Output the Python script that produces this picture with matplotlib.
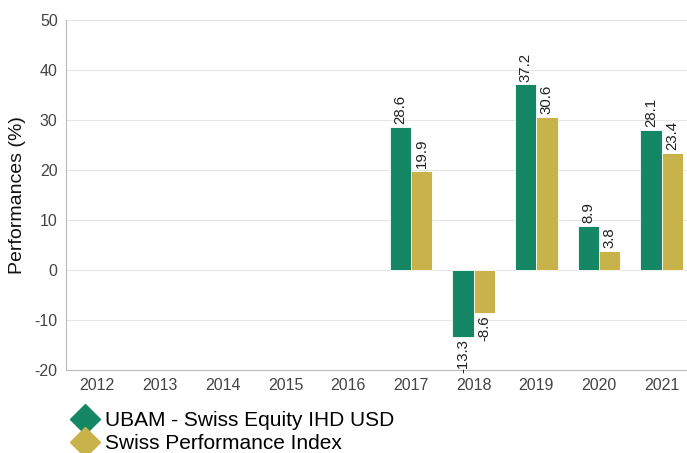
import matplotlib
matplotlib.use("Agg")
import matplotlib.pyplot as plt
import numpy as np
from matplotlib.lines import Line2D

years = ["2012", "2013", "2014", "2015", "2016", "2017", "2018", "2019", "2020", "2021"]
fund = [None, None, None, None, None, 28.6, -13.3, 37.2, 8.9, 28.1]
index = [None, None, None, None, None, 19.9, -8.6, 30.6, 3.8, 23.4]
series_names = ["UBAM - Swiss Equity IHD USD", "Swiss Performance Index"]
yticks = [-20, -10, 0, 10, 20, 30, 40, 50]
colors = ["#168764", "#C8B24A"]

plt.rcParams['font.family'] = ['Liberation Sans', 'DejaVu Sans']
plt.rcParams['axes.unicode_minus'] = False

fig = plt.figure(figsize=(6.87, 4.53), dpi=100)
ax = fig.add_axes([66/687, 1 - 370/453, 627/687, 350/453])

x = np.arange(len(years))
w = 0.34
for i, (vals, col) in enumerate(zip([fund, index], colors)):
    offs = (i - 0.5) * w
    for xi, v in zip(x, vals):
        if v is None:
            continue
        ax.bar(xi + offs, v, width=w, color=col, edgecolor="white", linewidth=0.6, zorder=3)
        if v >= 0:
            ax.text(xi + offs, v + 0.5, f"{v:.1f}", rotation=90, ha="center", va="bottom",
                    fontsize=10.8, color="#222222", zorder=4)
        else:
            ax.text(xi + offs, v - 0.5, f"{v:.1f}", rotation=90, ha="center", va="top",
                    fontsize=10.8, color="#222222", zorder=4)

ax.set_xlim(-0.5, len(years) - 0.5)
ax.set_ylim(-20, 50)
ax.set_yticks(yticks)
ax.set_yticklabels([str(t) for t in yticks])
ax.set_xticks(x)
ax.set_xticklabels(years)
ax.yaxis.grid(True, color="#e6e6e6", linewidth=0.8, zorder=0)
ax.set_axisbelow(True)
for s in ["top", "right"]:
    ax.spines[s].set_visible(False)
for s in ["left", "bottom"]:
    ax.spines[s].set_color("#bbbbbb")
    ax.spines[s].set_linewidth(0.8)
ax.tick_params(axis="both", length=0, labelsize=11.5, labelcolor="#444444", pad=6)
ax.set_ylabel("Performances (%)", fontsize=14, color="#111111", labelpad=6)

handles = [Line2D([], [], marker="D", linestyle="", markersize=15, color=c) for c in colors]
fig.legend(handles, series_names, loc="upper left", bbox_to_anchor=(71/687, 1 - 411/453),
           frameon=False, fontsize=15, handletextpad=0.35, labelspacing=0.2,
           borderaxespad=0, borderpad=0, handlelength=1.3)

fig.savefig("out.png", dpi=100)
